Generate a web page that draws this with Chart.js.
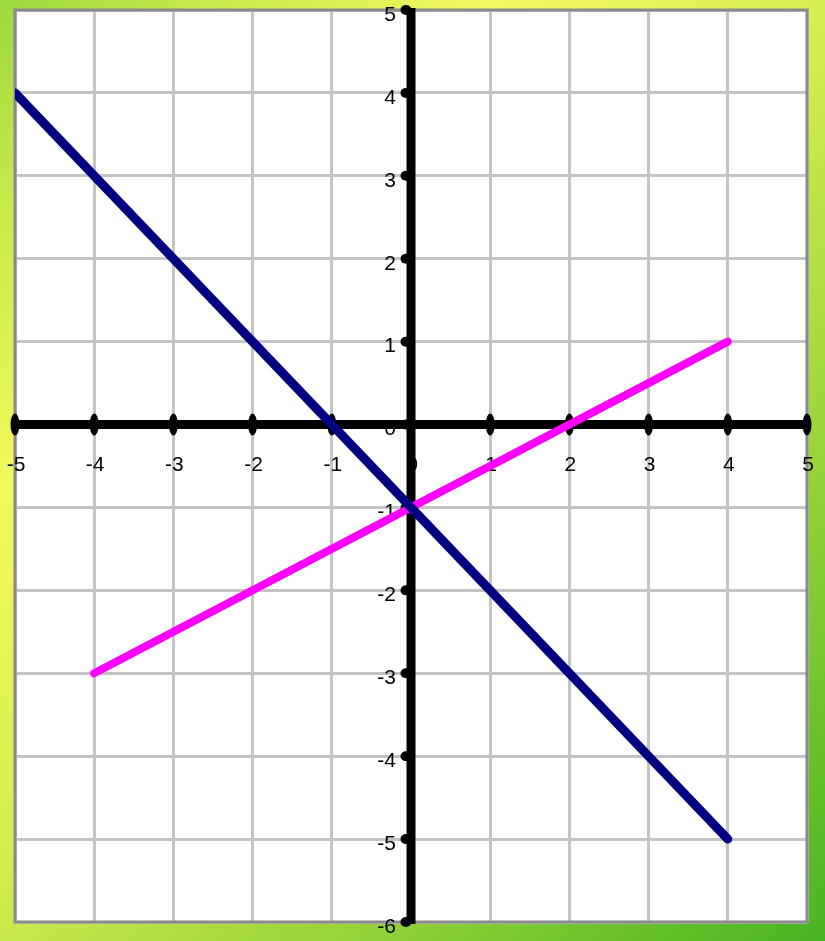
<!DOCTYPE html>
<html>
<head>
<meta charset="utf-8">
<script src="https://cdn.jsdelivr.net/npm/chart.js@4.4.0/dist/chart.umd.min.js"></script>
<style>
  html, body { margin: 0; padding: 0; }
  body {
    width: 825px; height: 941px; overflow: hidden;
    background: linear-gradient(135deg, #9cd83e 0%, #c8ea4c 12%, #f2f95e 28%, #d6ee50 48%, #98d43a 72%, #48b420 100%);
  }
  #wrap { position: absolute; left: 0; top: 0; width: 825px; height: 941px; }
</style>
</head>
<body>
<div id="wrap"><canvas id="c" width="825" height="941"></canvas></div>
<script>
// ---- data ----
const xTickValues = [-5, -4, -3, -2, -1, 0, 1, 2, 3, 4, 5];
const xTickLabels = ['-5', '-4', '-3', '-2', '-1', '0', '1', '2', '3', '4', '5'];
const yTickValues = [5, 4, 3, 2, 1, 0, -1, -2, -3, -4, -5, -6];
const yTickLabels = ['5', '4', '3', '2', '1', '0', '-1', '-2', '-3', '-4', '-5', '-6'];

const navyX = [-5, 4];
const navyY = [4, -5];
const magentaX = [-4, 4];
const magentaY = [-3, 1];

const xMin = -5, xMax = 5, yMin = -6, yMax = 5;

function pts(xs, ys) { return xs.map((x, i) => ({ x: x, y: ys[i] })); }

const plotBgPlugin = {
  id: 'plotBg',
  beforeDraw(chart) {
    const a = chart.chartArea;
    const ctx = chart.ctx;
    ctx.save();
    ctx.fillStyle = '#ffffff';
    ctx.fillRect(a.left, a.top, a.right - a.left, a.bottom - a.top);
    ctx.restore();
  }
};

const axesPlugin = {
  id: 'axesPlugin',
  beforeDatasetsDraw(chart) {
    const ctx = chart.ctx;
    const xs = chart.scales.x, ys = chart.scales.y;
    const a = chart.chartArea;
    const x0 = xs.getPixelForValue(0);
    const y0 = ys.getPixelForValue(0);
    ctx.save();
    // frame
    ctx.strokeStyle = '#8a8a8a';
    ctx.lineWidth = 3;
    ctx.strokeRect(a.left, a.top, a.right - a.left, a.bottom - a.top);

    // labels
    ctx.fillStyle = '#000';
    ctx.font = '21px "Liberation Sans", Arial, sans-serif';
    ctx.textAlign = 'center';
    ctx.textBaseline = 'middle';
    xTickValues.forEach((v, i) => {
      ctx.fillText(xTickLabels[i], xs.getPixelForValue(v) + 1, y0 + 41);
    });
    ctx.textAlign = 'right';
    yTickValues.forEach((v, i) => {
      ctx.fillText(yTickLabels[i], x0 - 15, ys.getPixelForValue(v) + 5);
    });

    // axis lines
    ctx.strokeStyle = '#000';
    ctx.lineCap = 'butt';
    ctx.lineWidth = 9;
    ctx.beginPath();
    ctx.moveTo(xs.getPixelForValue(xMin), y0);
    ctx.lineTo(xs.getPixelForValue(xMax), y0);
    ctx.stroke();
    ctx.beginPath();
    ctx.moveTo(x0, ys.getPixelForValue(yMax) - 2);
    ctx.lineTo(x0, ys.getPixelForValue(yMin) + 2);
    ctx.stroke();

    // tick dots on x axis
    ctx.fillStyle = '#000';
    xTickValues.forEach(v => {
      ctx.beginPath();
      ctx.ellipse(xs.getPixelForValue(v), y0, 4.5, 11, 0, 0, Math.PI * 2);
      ctx.fill();
    });
    // tick dots on y axis
    yTickValues.forEach(v => {
      ctx.beginPath();
      ctx.ellipse(x0 - 5, ys.getPixelForValue(v), 5.5, 5, 0, 0, Math.PI * 2);
      ctx.fill();
    });
    ctx.restore();
  }
};

new Chart(document.getElementById('c'), {
  type: 'scatter',
  data: {
    datasets: [
      {
        data: pts(navyX, navyY),
        showLine: true,
        borderColor: '#000080',
        backgroundColor: '#000080',
        borderWidth: 9,
        borderCapStyle: 'round',
        pointRadius: 0,
        pointHoverRadius: 0
      },
      {
        data: pts(magentaX, magentaY),
        showLine: true,
        borderColor: '#ff00ff',
        backgroundColor: '#ff00ff',
        borderWidth: 8,
        borderCapStyle: 'round',
        pointRadius: 0,
        pointHoverRadius: 0
      }
    ]
  },
  options: {
    responsive: false,
    animation: false,
    devicePixelRatio: 1,
    layout: { padding: { left: 15, right: 18, top: 10, bottom: 19 } },
    plugins: { legend: { display: false }, tooltip: { enabled: false } },
    scales: {
      x: {
        type: 'linear', min: xMin, max: xMax,
        afterBuildTicks: s => { s.ticks = xTickValues.map(v => ({ value: v })); },
        ticks: { display: false },
        grid: { color: '#c4c4c4', lineWidth: 3, drawTicks: false },
        border: { display: false }
      },
      y: {
        type: 'linear', min: yMin, max: yMax,
        afterBuildTicks: s => { s.ticks = yTickValues.map(v => ({ value: v })); },
        ticks: { display: false },
        grid: { color: '#c4c4c4', lineWidth: 3, drawTicks: false },
        border: { display: false }
      }
    }
  },
  plugins: [plotBgPlugin, axesPlugin]
});
</script>
</body>
</html>
